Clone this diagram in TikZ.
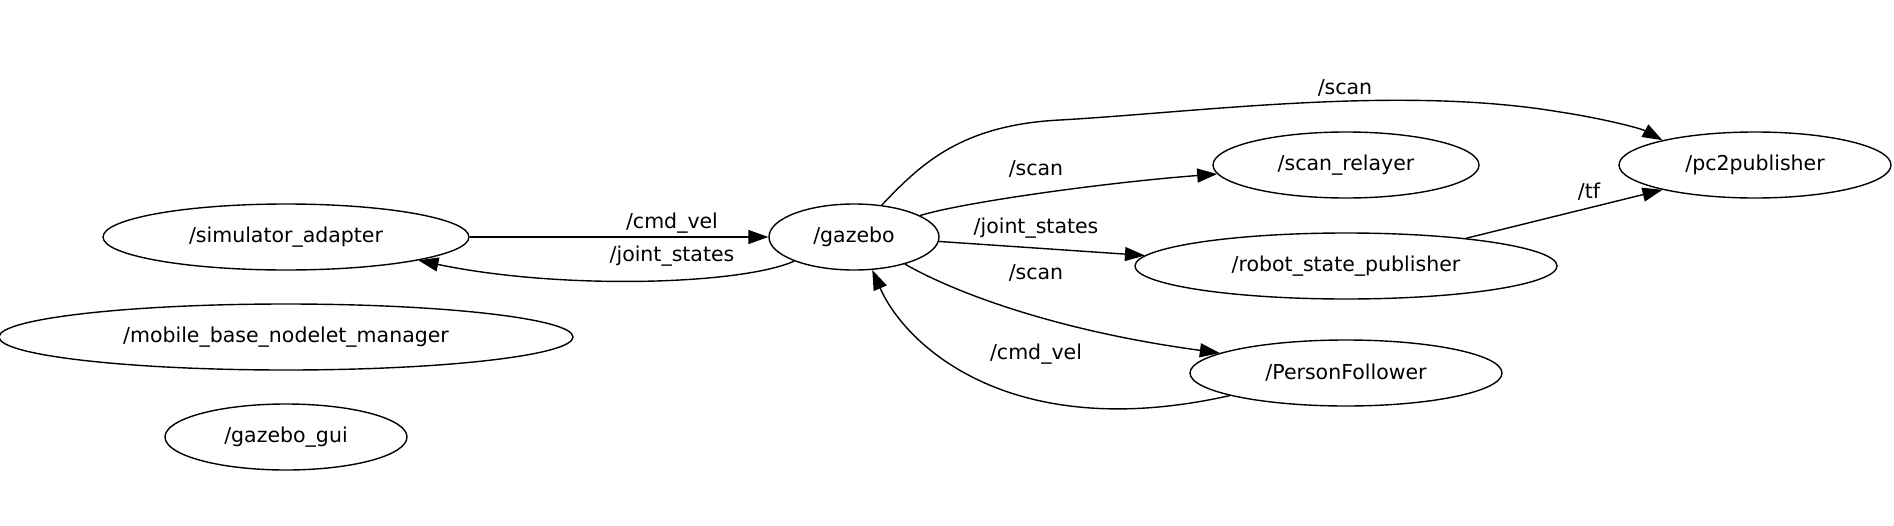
\documentclass[tikz,border=0pt]{standalone}
\usepackage{fontspec}
\setmainfont{DejaVu Sans}
\usetikzlibrary{arrows.meta,shapes.geometric}

\tikzset{
  rosnode/.style={draw, ellipse, line width=1.4pt, inner sep=0pt, font=\fontsize{20.5}{24}\selectfont},
  topic/.style={line width=1.4pt, -{Triangle[length=20pt,width=14pt]}},
  lbl/.style={font=\fontsize{20.5}{24}\selectfont}
}

\begin{document}
\begin{tikzpicture}[x=1pt, y=-1pt]
    \useasboundingbox (0,0) rectangle (1894,525);
    % nodes
    \node[rosnode, minimum width=366pt, minimum height=66pt] (sim) at (286,237) {/simulator\_adapter};
    \node[rosnode, minimum width=574pt, minimum height=66pt] (mbnm) at (286,337) {/mobile\_base\_nodelet\_manager};
    \node[rosnode, minimum width=242pt, minimum height=66pt] (gui) at (286,437) {/gazebo\_gui};
    \node[rosnode, minimum width=170pt, minimum height=66pt] (gaz) at (854,237) {/gazebo};
    \node[rosnode, minimum width=266pt, minimum height=66pt] (relay) at (1346,165) {/scan\_relayer};
    \node[rosnode, minimum width=272pt, minimum height=66pt] (pc2) at (1755,165) {/pc2publisher};
    \node[rosnode, minimum width=422pt, minimum height=66pt] (rsp) at (1346,266) {/robot\_state\_publisher};
    \node[rosnode, minimum width=312pt, minimum height=66pt] (pf) at (1346,373) {/PersonFollower};
    % topics
    \draw[topic] (sim) -- (gaz);
    \node[lbl] at (672,223) {/cmd\_vel};
    \draw[topic] (gaz.-158) .. controls (740,285) and (560,290) .. (sim.-10);
    \node[lbl] at (672,256) {/joint\_states};
    \draw[topic] (gaz.49) .. controls (920,165) and (960,125) .. (1060,120)
        .. controls (1200,112) and (1400,85) .. (1560,112)
        .. controls (1600,118) and (1640,128) .. (pc2.165);
    \node[lbl] at (1345,88) {/scan};
    \draw[topic] (gaz.18) .. controls (960,203) and (1100,183) .. (relay.-176);
    \node[lbl] at (1036,169) {/scan};
    \draw[topic] (gaz.-3) -- (rsp.177);
    \node[lbl] at (1036,228) {/joint\_states};
    \draw[topic] (gaz.-28) .. controls (950,290) and (1050,330) .. (pf.171);
    \node[lbl] at (1036,273) {/scan};
    \draw[topic] (pf.-169) .. controls (1010,445) and (905,345) .. (gaz.-61);
    \node[lbl] at (1036,354) {/cmd\_vel};
    \draw[topic] (rsp.13) -- (pc2.-165);
    \node[lbl] at (1589,192) {/tf};
\end{tikzpicture}
\end{document}
